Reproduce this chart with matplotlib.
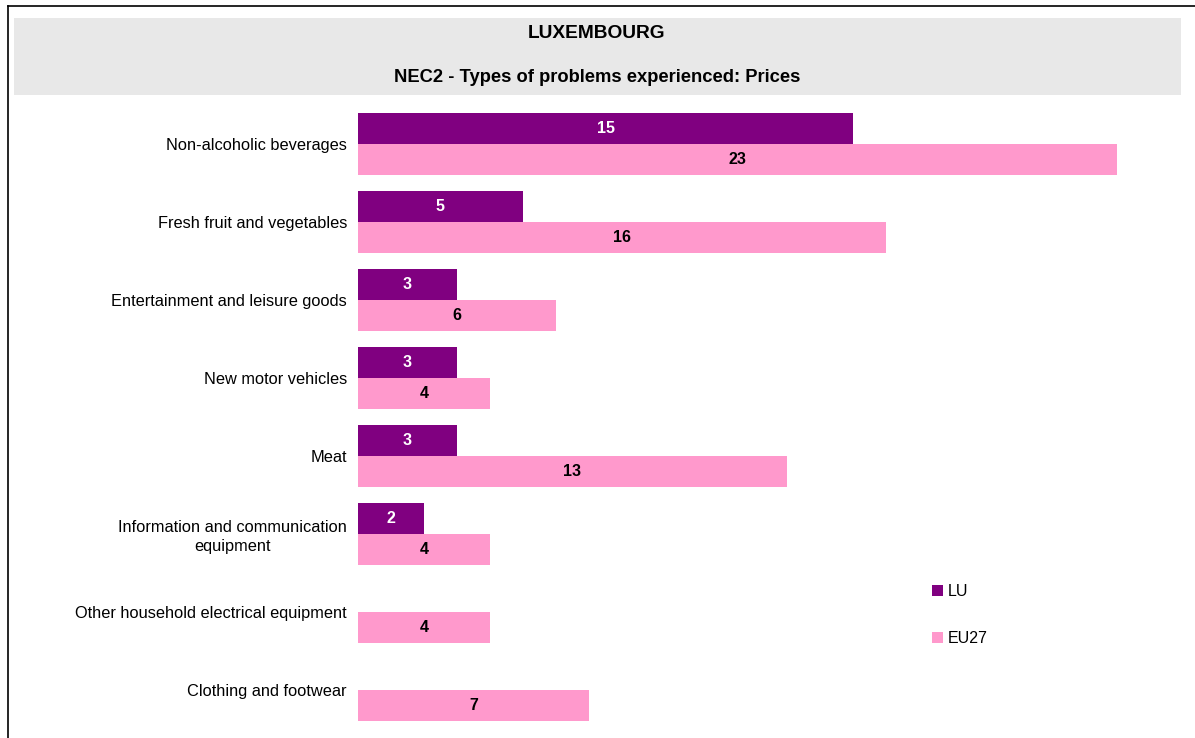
import numpy as np
import matplotlib.pyplot as plt
from matplotlib.patches import Rectangle
from matplotlib.lines import Line2D

plt.rcParams['font.family'] = ['Liberation Sans', 'DejaVu Sans']

# datos
categorias = ['Non-alcoholic beverages', 'Fresh fruit and vegetables',
              'Entertainment and leisure goods', 'New motor vehicles', 'Meat',
              'Information and communication\nequipment',
              'Other household electrical equipment', 'Clothing and footwear']
lu = [15, 5, 3, 3, 3, 2, None, None]
eu27 = [23, 16, 6, 4, 13, 4, 4, 7]

color_lu = '#800080'
color_eu = '#ff99cc'

W, H = 1195, 738
fig = plt.figure(figsize=(W / 100, H / 100), dpi=100)

# marco y cabecera gris
fig.add_artist(Line2D([8 / W, 1], [1 - 6 / H, 1 - 6 / H], color='black', lw=1.2))
fig.add_artist(Line2D([8 / W, 8 / W], [0, 1 - 6 / H], color='black', lw=1.2))
fig.add_artist(Rectangle((14 / W, 1 - 95 / H), (1181 - 14) / W, (95 - 18) / H,
                         facecolor='#e8e8e8', edgecolor='none'))
fig.text(597 / W, 1 - 33 / H, 'LUXEMBOURG', ha='center', va='center',
         fontsize=13.8, fontweight='bold')
fig.text(597 / W, 1 - 77 / H, 'NEC2 - Types of problems experienced: Prices',
         ha='center', va='center', fontsize=13.2, fontweight='bold')

# ejes
ax = fig.add_axes([358 / W, 1 - 729 / H, 825 / W, 624 / H])
y = np.arange(len(categorias))
h = 0.4
lu_vals = [v if v is not None else 0 for v in lu]
b1 = ax.barh(y - h / 2, lu_vals, height=h, color=color_lu, label='LU')
b2 = ax.barh(y + h / 2, eu27, height=h, color=color_eu, label='EU27')

for rect, v in zip(b1, lu):
    if v is not None:
        ax.text(rect.get_width() / 2, rect.get_y() + rect.get_height() / 2, str(v),
                ha='center', va='center', color='white', fontsize=11.5, fontweight='bold')
for rect, v in zip(b2, eu27):
    ax.text(rect.get_width() / 2, rect.get_y() + rect.get_height() / 2, str(v),
            ha='center', va='center', color='black', fontsize=11.5, fontweight='bold')

ax.set_xlim(0, 25)
ax.set_ylim(7.5, -0.5)
ax.set_yticks(y)
ax.set_yticklabels(categorias, fontsize=11.8, ha='right', multialignment='center',
                   linespacing=1.3)
ax.tick_params(axis='y', length=0, pad=8)
ax.set_xticks([])
for s in ax.spines.values():
    s.set_visible(False)

ax.legend(loc='upper left', bbox_to_anchor=(932 / W, 1 - 584 / H),
          bbox_transform=fig.transFigure, frameon=False, fontsize=11.5,
          handlelength=0.7, handleheight=0.7, handletextpad=0.3,
          labelspacing=2.0, borderpad=0, borderaxespad=0)

fig.savefig('out.png', dpi=100)
